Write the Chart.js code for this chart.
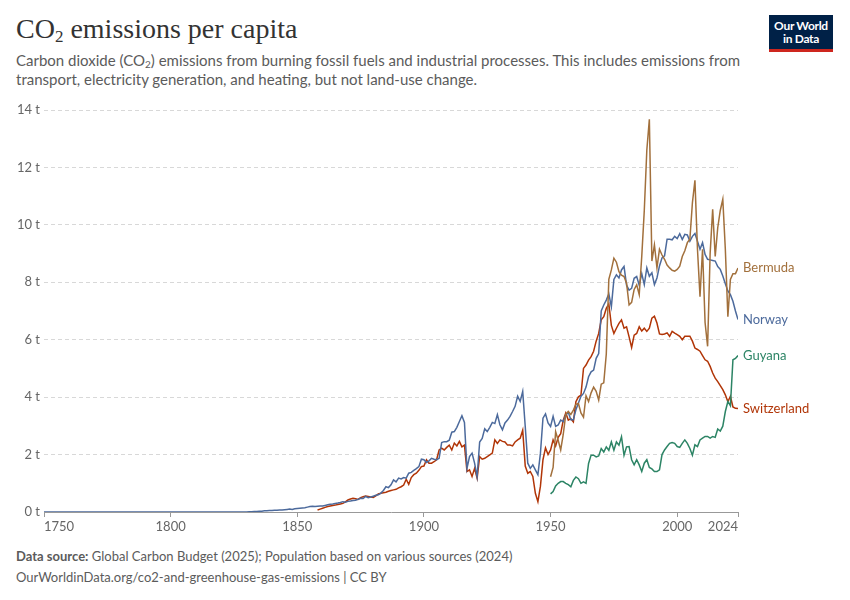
<!DOCTYPE html>
<html>
<head>
<meta charset="utf-8">
<script src="https://cdn.jsdelivr.net/npm/chart.js@4.4.0/dist/chart.umd.min.js"></script>
<style>
  html, body { margin: 0; padding: 0; background: #fff; }
  body { width: 850px; height: 600px; position: relative; overflow: hidden; font-family: Lato, "Noto Sans", sans-serif; }
  #titulo { position: absolute; left: 16px; top: 15px; font-family: "Liberation Serif", serif; font-size: 28px; line-height: 1; color: #333; }
  #titulo sub { font-size: 17px; vertical-align: -4px; line-height: 0; }
  #subtitulo { position: absolute; left: 16px; top: 51px; width: 760px; font-size: 15px; line-height: 19px; color: #5b5b5b; }
  #subtitulo sub { font-size: 10px; vertical-align: -2px; line-height: 0; }
  #logo { position: absolute; left: 769px; top: 15px; width: 64px; background: #002147; border-bottom: 3px solid #ce261e; color: #fff; font-weight: bold; font-size: 12px; line-height: 13px; text-align: center; padding-top: 4px; height: 30px; letter-spacing: -0.3px; }
  #fonte { position: absolute; left: 16px; top: 548px; font-size: 13px; color: #5b5b5b; }
  #url { position: absolute; left: 16px; top: 569px; font-size: 13px; color: #5b5b5b; }
  #grafico { position: absolute; left: 0; top: 94px; }
</style>
</head>
<body>
<div id="titulo">CO<sub>2</sub> emissions per capita</div>
<div id="subtitulo">Carbon dioxide (CO<sub>2</sub>) emissions from burning fossil fuels and industrial processes. This includes emissions from<br>transport, electricity generation, and heating, but not land-use change.</div>
<div id="logo">Our World<br>in Data</div>
<canvas id="grafico" width="850" height="440" style="width:850px;height:440px"></canvas>
<div id="fonte"><b>Data source:</b> Global Carbon Budget (2025); Population based on various sources (2024)</div>
<div id="url">OurWorldinData.org/co2-and-greenhouse-gas-emissions | CC BY</div>
<script>
// anos do eixo x
const xTicks = [1750, 1800, 1850, 1900, 1950, 2000, 2024];
const yTicks = [0, 2, 4, 6, 8, 10, 12, 14];

// Norway: zero antes de 1831
const norwayZeroYears = [1750, 1775, 1800, 1825, 1830];
const norwayStart = 1831;
const norwayValues = [
  0.01, 0.01, 0.02, 0.02, 0.03, 0.03, 0.04, 0.04, 0.05, 0.05, 0.06, 0.06, 0.07, 0.07, 0.08, 0.09, 0.1, 0.09, 0.11, // 1831-1849
  0.12, 0.13, 0.14, 0.15, 0.17, 0.19, 0.2, 0.19, 0.2, 0.21, // 1850-1859
  0.21, 0.23, 0.25, 0.27, 0.28, 0.3, 0.31, 0.33, 0.36, 0.34, // 1860s
  0.37, 0.38, 0.4, 0.41, 0.44, 0.48, 0.47, 0.54, 0.5, 0.52, // 1870s
  0.55, 0.58, 0.6, 0.66, 0.75, 0.88, 0.85, 0.95, 1.12, 1.05, // 1880s
  1.18, 1.15, 1.2, 1.18, 1.35, 1.38, 1.45, 1.51, 1.58, 1.84, // 1890s
  1.82, 1.72, 1.78, 1.87, 1.84, 1.82, 1.87, 2.42, 2.45, 2.45, // 1900s
  2.5, 2.78, 2.8, 2.95, 3.15, 3.35, 3.12, 1.52, 1.93, 2.05, // 1910s
  1.7, 1.23, 2.44, 2.56, 2.9, 2.8, 2.95, 3.12, 3.08, 3.39, // 1920s
  3.04, 2.86, 3.1, 3.2, 3.33, 3.5, 3.68, 4.03, 3.85, 4.2, // 1930s
  2.98, 1.7, 1.52, 1.64, 1.47, 1.3, 2.05, 3.27, 3.42, 3.1, // 1940s
  2.98, 3.33, 2.98, 3.03, 3.2, 3.15, 3.38, 3.47, 3.21, 3.21, // 1950s
  3.56, 3.8, 4.03, 4.13, 4.35, 4.71, 4.88, 4.94, 5.35, 5.52, // 1960s
  7.0, 7.21, 7.38, 7.6, 7.15, 8.1, 8.26, 8.15, 8.43, 8.55, // 1970s
  7.9, 7.73, 7.79, 8.14, 8.2, 7.9, 8.3, 7.92, 8.5, 8.21, // 1980s
  8.33, 7.92, 8.15, 8.57, 8.85, 8.92, 9.5, 9.5, 9.48, 9.6, // 1990s
  9.52, 9.69, 9.49, 9.67, 9.65, 9.43, 9.6, 9.7, 9.43, 9.15, // 2000s
  9.38, 8.97, 8.8, 8.78, 8.76, 8.74, 8.55, 8.45, 8.22, 7.95, // 2010s
  7.7, 7.57, 7.34, 7.0, 6.7 // 2020-2024
];

const switzerlandStart = 1858;
const switzerlandValues = [
  0.07, 0.1, // 1858-1859
  0.13, 0.16, 0.19, 0.21, 0.23, 0.24, 0.26, 0.28, 0.3, 0.35,
  0.42, 0.45, 0.48, 0.46, 0.44, 0.5, 0.53, 0.56, 0.54, 0.52,
  0.51, 0.56, 0.63, 0.65, 0.67, 0.69, 0.72, 0.75, 0.77, 0.79,
  0.84, 0.88, 0.94, 1.14, 0.96, 1.2, 1.3, 1.35, 1.45, 1.58,
  1.6, 1.82, 1.7, 1.7, 1.75, 1.82, 2.16, 2.22, 2.16, 2.25,
  2.33, 2.16, 2.4, 2.3, 2.46, 2.27, 2.33, 1.41, 1.47, 1.24,
  1.52, 1.18, 1.93, 1.84, 1.87, 1.93, 1.99, 2.05, 2.51, 2.39,
  2.51, 2.46, 2.44, 2.33, 2.33, 2.3, 2.44, 2.51, 2.57, 2.85,
  1.6, 1.35, 1.41, 1.24, 0.65, 0.36, 0.9, 1.82, 2.23, 2.0,
  2.16, 2.51, 2.3, 2.6, 2.73, 3.2, 3.45, 3.2, 3.25, 3.14,
  3.84, 4.01, 4.07, 5.0, 5.12, 5.29, 5.41, 5.6, 5.95, 6.22,
  6.69, 6.8, 7.09, 7.25, 6.5, 6.22, 6.4, 6.57, 6.69, 6.4,
  6.45, 6.1, 5.73, 6.16, 6.22, 6.45, 6.3, 6.4, 6.29, 6.4,
  6.75, 6.82, 6.58, 6.2, 6.18, 6.2, 6.24, 6.12, 6.29, 6.23,
  6.18, 6.12, 6.0, 6.12, 6.12, 6.12, 5.95, 5.71, 5.66, 5.6,
  5.45, 5.3, 5.25, 5.07, 4.84, 4.66, 4.54, 4.4, 4.26, 4.08,
  3.84, 4.03, 3.66, 3.61, 3.6
];

const bermudaStart = 1950;
const bermudaValues = [
  1.23, 1.55, 2.8, 2.5, 2.16, 2.7, 3.4, 3.5, 3.4, 3.55,
  3.75, 3.78, 3.45, 3.3, 4.05, 3.85, 4.15, 4.35, 4.2, 3.9,
  4.45, 4.5, 5.5, 8.1, 8.43, 8.84, 8.7, 8.37, 8.25, 8.2,
  7.97, 7.21, 7.3, 7.75, 7.91, 7.57, 8.9, 10.5, 12.6, 13.68,
  8.74, 9.3, 8.5, 9.15, 8.95, 8.8, 8.6, 8.5, 8.42, 8.39,
  8.45, 8.56, 8.9, 9.1, 9.38, 9.5, 10.77, 11.55, 9.15, 7.5,
  9.15, 6.6, 5.77, 9.0, 10.54, 8.9, 9.9, 10.5, 10.89, 9.15,
  6.8, 8.1, 8.3, 8.3, 8.5
];

const guyanaStart = 1950;
const guyanaValues = [
  0.63, 0.71, 0.91, 1.0, 1.06, 1.06, 1.0, 0.95, 0.88, 1.1,
  1.22, 1.16, 1.0, 1.05, 1.0, 1.69, 1.98, 1.98, 1.92, 1.95,
  2.21, 2.09, 2.27, 2.15, 2.44, 2.15, 2.44, 2.33, 2.62, 1.98,
  2.27, 2.28, 1.82, 1.64, 1.82, 1.64, 1.41, 1.7, 1.82, 1.55,
  1.5, 1.41, 1.41, 1.47, 2.0, 2.16, 2.28, 2.39, 2.42, 2.39,
  2.28, 2.25, 2.39, 2.51, 2.39, 2.21, 1.98, 2.34, 2.28, 2.51,
  2.57, 2.63, 2.63, 2.57, 2.63, 2.6, 2.89, 2.82, 2.99, 3.5,
  3.85, 3.7, 5.3, 5.35, 5.45
];

// monta os pontos {x, y} a partir do ano inicial
function pontos(inicio, valores) {
    return valores.map((v, i) => ({ x: inicio + i, y: v }));
}

const norwayPoints = norwayZeroYears.map(a => ({ x: a, y: 0 })).concat(pontos(norwayStart, norwayValues));

const series = [
    { label: 'Bermuda', data: pontos(bermudaStart, bermudaValues), color: '#a2703c' },
    { label: 'Norway', data: norwayPoints, color: '#4c6a9c' },
    { label: 'Guyana', data: pontos(guyanaStart, guyanaValues), color: '#2c8465' },
    { label: 'Switzerland', data: pontos(switzerlandStart, switzerlandValues), color: '#b13507' }
];

// rotulos no fim de cada linha
const rotulosFinais = {
    id: 'rotulosFinais',
    afterDatasetsDraw(chart) {
        const ctx = chart.ctx;
        const y = chart.scales.y;
        ctx.save();
        ctx.font = '13px Lato';
        ctx.textBaseline = 'middle';
        chart.data.datasets.forEach(ds => {
            const ultimo = ds.data[ds.data.length - 1];
            ctx.fillStyle = ds.borderColor;
            ctx.fillText(ds.label, chart.chartArea.right + 5, y.getPixelForValue(ultimo.y));
        });
        ctx.restore();
    }
};

const grafico = new Chart(document.getElementById('grafico'), {
    type: 'line',
    data: {
        datasets: series.map(s => ({
            label: s.label,
            data: s.data,
            borderColor: s.color,
            backgroundColor: s.color,
            borderWidth: 1.5,
            pointRadius: 0,
            tension: 0,
            fill: false
        }))
    },
    options: {
        responsive: false,
        animation: false,
        layout: { padding: { top: 16, right: 112, left: 0, bottom: 0 } },
        plugins: { legend: { display: false }, tooltip: { enabled: false } },
        scales: {
            x: {
                type: 'linear',
                min: 1750,
                max: 2024,
                afterBuildTicks: axis => { axis.ticks = xTicks.map(v => ({ value: v })); },
                afterFit: axis => { axis.height = 22; },
                ticks: {
                    align: 'inner',
                    maxRotation: 0,
                    autoSkip: false,
                    color: '#666',
                    font: { family: 'Lato', size: 13 },
                    padding: 2,
                    callback: v => String(v)
                },
                grid: { drawOnChartArea: false, drawTicks: true, tickLength: 5, color: '#999' },
                border: { color: '#999', width: 1 }
            },
            y: {
                min: 0,
                max: 14,
                afterBuildTicks: axis => { axis.ticks = yTicks.map(v => ({ value: v })); },
                afterFit: axis => { axis.width = 44; },
                ticks: {
                    color: '#666',
                    font: { family: 'Lato', size: 13 },
                    padding: 4,
                    callback: v => v + ' t'
                },
                grid: {
                    drawTicks: false,
                    color: c => (c.tick && c.tick.value === 0) ? 'rgba(0,0,0,0)' : '#d8d8d8'
                },
                border: { display: false, dash: [4, 3] }
            }
        }
    },
    plugins: [rotulosFinais]
});
</script>
</body>
</html>
